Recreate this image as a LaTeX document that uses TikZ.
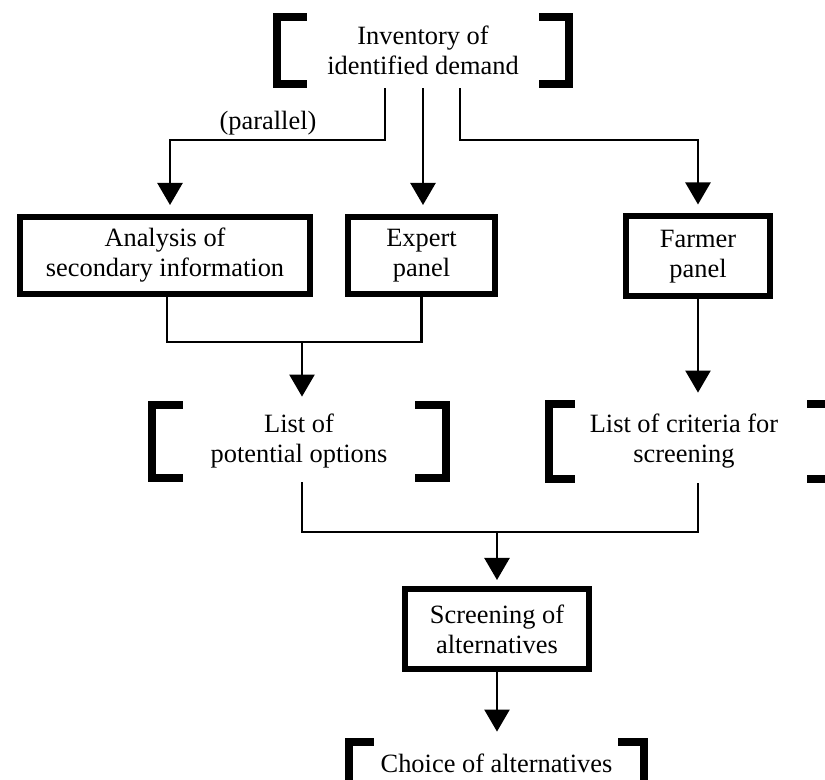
\documentclass[tikz,border=0pt]{standalone}
\usepackage{fontspec}
\setmainfont{Liberation Serif}
\usetikzlibrary{arrows.meta}
\newcommand\leftbrk[2]{%
  \draw[brk] ([xshift=#2,yshift=-2pt]#1.north west) -- ([xshift=2pt,yshift=-2pt]#1.north west)
    -- ([xshift=2pt,yshift=2pt]#1.south west) -- ([xshift=#2,yshift=2pt]#1.south west);}
\newcommand\rightbrk[2]{%
  \draw[brk] ([xshift=-#2,yshift=-2pt]#1.north east) -- ([xshift=-2pt,yshift=-2pt]#1.north east)
    -- ([xshift=-2pt,yshift=2pt]#1.south east) -- ([xshift=-#2,yshift=2pt]#1.south east);}
\begin{document}
\begin{tikzpicture}[x=0.5pt,y=-0.5pt,
  txt/.style={font=\fontsize{13.2pt}{15pt}\selectfont, align=center, inner sep=0pt},
  box/.style={txt, draw=black, line width=3pt},
  brnode/.style={txt},
  brk/.style={line width=4pt, line join=miter, line cap=butt},
  line/.style={line width=1.2pt},
  conn/.style={line, -{Triangle[width=12.5pt,length=11pt]}}]
\useasboundingbox (0,0) rectangle (825,780);
\clip (0,0) rectangle (825,780);
% nodes
\node[brnode, minimum width=150pt, minimum height=37.5pt] (inv) at (423,50.5) {Inventory of\\identified demand};
\node[box, minimum width=145pt, minimum height=38.5pt] (ana) at (165,255.5) {Analysis of\\secondary information};
\node[box, minimum width=73.5pt, minimum height=38.5pt] (exp) at (421.5,255.5) {Expert\\panel};
\node[box, minimum width=72pt, minimum height=40pt] (far) at (698,256.5) {Farmer\\panel};
\node[brnode, minimum width=151pt, minimum height=40.5pt] (pot) at (299,441.5) {List of\\potential options};
\node[brnode, minimum width=139pt, minimum height=41.5pt] (cri) at (684,441.5) {List of criteria for\\screening};
\node[box, minimum width=92pt, minimum height=40pt] (scr) at (497,629) {Screening of\\alternatives};
\node[brnode, minimum width=151.5pt, minimum height=25pt] (cho) at (496.5,763) {Choice of alternatives};
\node[txt] (par) at (268,123) {(parallel)};
% brackets
\leftbrk{inv}{17pt}\rightbrk{inv}{17pt}
\leftbrk{pot}{17.5pt}\rightbrk{pot}{17.5pt}
\leftbrk{cri}{15pt}
\draw[brk] ([xshift=-8pt,yshift=-2pt]cri.north east) -- ([xshift=13.5pt,yshift=-2pt]cri.north east)
  -- ([xshift=13.5pt,yshift=2pt]cri.south east) -- ([xshift=-8pt,yshift=2pt]cri.south east);
\leftbrk{cho}{14.5pt}\rightbrk{cho}{15pt}
% connectors
\coordinate (j1) at (170,140);
\coordinate (j2) at (698,140);
\draw[conn, shorten >=4.5pt] ([xshift=-19pt]inv.south) |- (j1) -- (j1 |- ana.north);
\draw[conn, shorten >=4.5pt] (inv.south) -- (inv.south |- exp.north);
\draw[conn, shorten >=4.5pt] ([xshift=18.5pt]inv.south) |- (j2) -- (far.north);
\coordinate (m1) at (302,342);
\draw[line] ([xshift=1pt]ana.south) |- (m1) -| (exp.south);
\draw[conn, shorten >=2pt] (m1) -- (m1 |- pot.north);
\draw[conn, shorten >=3.5pt] (far.south) -- (far.south |- cri.north);
\coordinate (m2) at (497,532);
\draw[line] (m1 |- pot.south) |- (m2) -| (far.south |- cri.south);
\draw[conn, shorten >=3pt] (m2) -- (scr.north);
\draw[conn, shorten >=3pt] (scr.south) -- (scr.south |- cho.north);
\end{tikzpicture}
\end{document}
